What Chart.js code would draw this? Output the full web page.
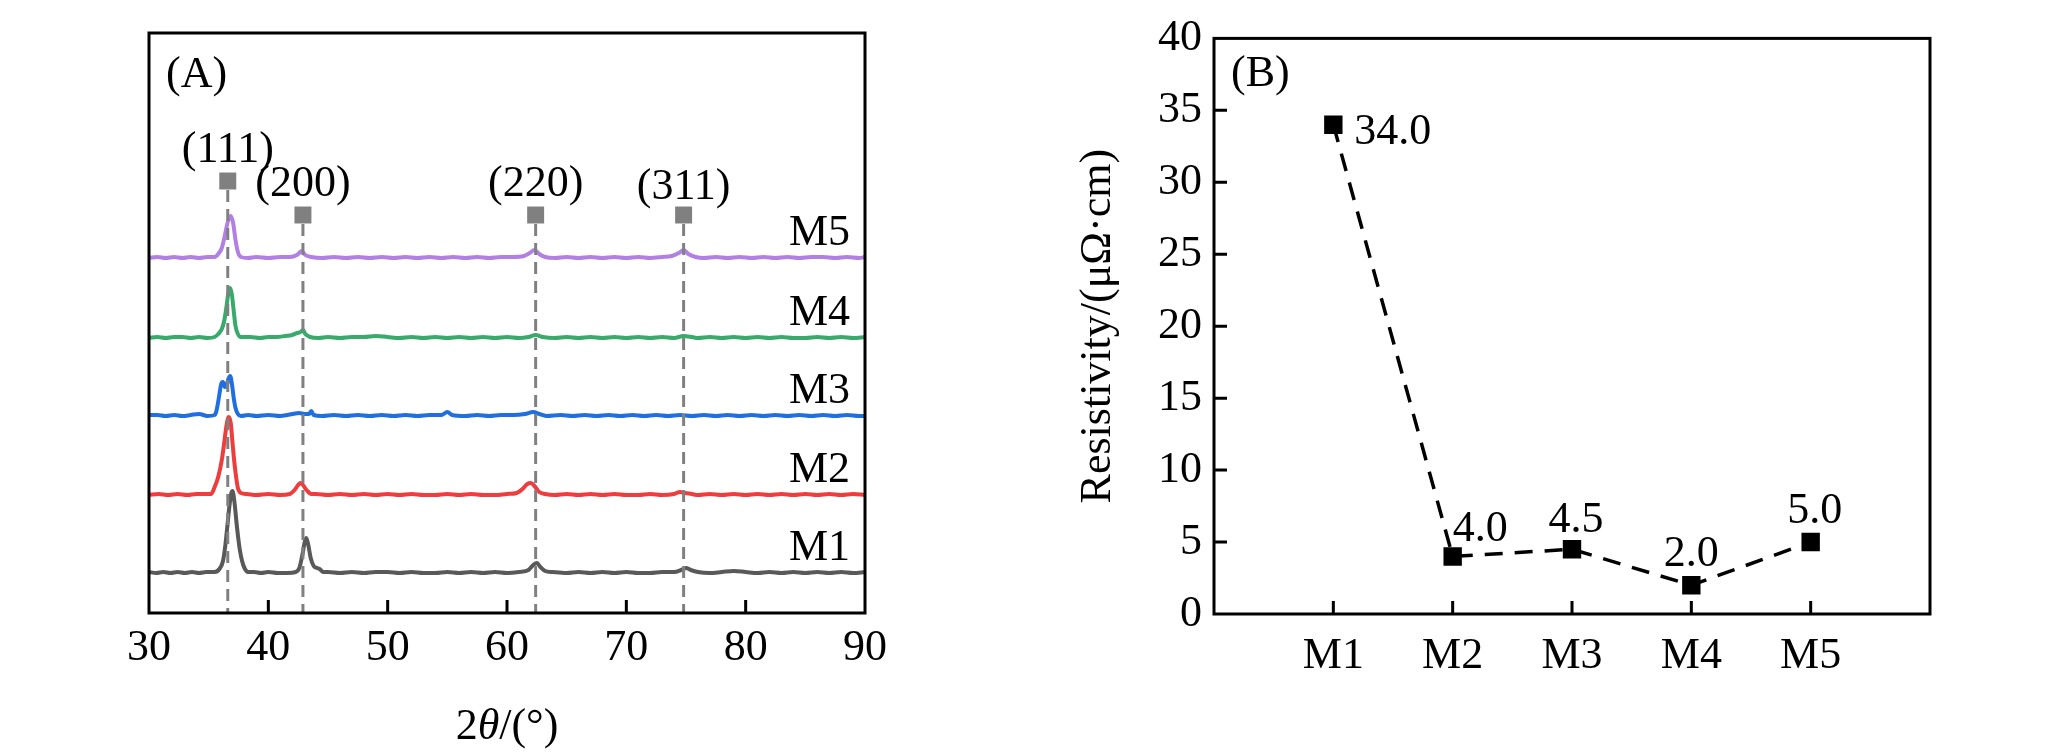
<!DOCTYPE html>
<html>
<head>
<meta charset="utf-8">
<script src="https://cdn.jsdelivr.net/npm/chart.js@4.4.0/dist/chart.umd.min.js"></script>
<style>
  html, body { margin: 0; padding: 0; background: #fff; }
  #wrap { position: relative; width: 2047px; height: 756px; overflow: hidden; }
  canvas { position: absolute; top: 0; }
  #xrd { left: 0; }
  #res { left: 1000px; }
</style>
</head>
<body>
<div id="wrap">
  <canvas id="xrd" width="1000" height="756"></canvas>
  <canvas id="res" width="1047" height="756"></canvas>
</div>
<script>
// ---- data: XRD patterns (2theta in degrees, intensity in a.u. above each curve's baseline)
const sampleNames = ['M1', 'M2', 'M3', 'M4', 'M5'];
const sampleColors = ['#595959', '#ee3d3d', '#1f6fe0', '#3aa96c', '#b27fe3'];
const stackOffsets = [40, 118, 197, 275, 355];

const xrdM1 = [[30,1],[30.6,0],[31.2,1],[31.8,0],[32.4,1],[33,0],[33.6,1],[34.2,0],[34.8,1],[35.2,1],[35.5,1],[35.9,4],[36.2,12],[36.4,28],[36.55,45],[36.75,68],[36.9,80],[37,82],[37.15,72],[37.38,45],[37.6,24],[37.8,12],[38,5],[38.3,1],[38.8,1],[39.4,0],[40,1],[40.8,0],[41.6,0],[42.3,1],[42.6,5],[42.85,18],[43.05,31],[43.18,35],[43.35,28],[43.55,15],[43.8,7],[44.1,5],[44.3,4],[44.6,1],[45,1],[46,0],[47,1],[48,0],[49,1],[50,1],[51,0],[52,1],[53,0],[54,0],[55,1],[56,0],[57,1],[58,0],[59,1],[60,0],[61,1],[61.8,3],[62.2,8],[62.5,10],[62.8,6],[63.2,2],[63.8,1],[65,0],[66,1],[67,0],[68,1],[69,0],[70,1],[71,0],[72,0],[73,1],[74,1],[74.6,3],[75,5],[75.4,3],[76,1],[77,0],[78,1],[79,2],[80,1],[81,0],[82,1],[83,0],[84,1],[85,0],[86,1],[87,0],[88,1],[89,0],[90,1]];
const xrdM2 = [[30,0],[30.8,1],[31.6,0],[32.4,1],[33.2,0],[34,1],[34.8,1],[35.2,1],[35.5,8],[35.8,18],[36.1,35],[36.3,52],[36.5,70],[36.68,78],[36.85,72],[37,52],[37.15,33],[37.3,18],[37.45,7],[37.7,2],[38.2,1],[39,0],[40,1],[41,0],[41.8,1],[42.2,5],[42.5,10],[42.7,12],[42.9,10],[43.2,5],[43.6,1],[44,1],[45,0],[46,1],[47,0],[48,1],[49,0],[50,1],[51,0],[52,1],[53,0],[54,0],[55,1],[56,0],[57,1],[58,0],[59,0],[60,1],[60.8,2],[61.3,6],[61.7,11],[62,12],[62.3,9],[62.7,3],[63.2,1],[64,0],[65,1],[66,0],[67,1],[68,0],[69,1],[70,0],[71,0],[72,1],[73,0],[74,1],[74.5,3],[74.9,2],[75.5,1],[76,0],[77,1],[78,0],[79,1],[80,0],[81,1],[82,0],[83,1],[84,0],[85,1],[86,0],[87,1],[88,0],[89,1],[90,0]];
const xrdM3 = [[30,1],[30.7,1],[31.4,0],[32.1,1],[32.8,0],[33.5,1],[34.2,2],[34.9,0],[35.5,1],[35.65,5],[35.85,18],[36.05,32],[36.2,34],[36.35,29],[36.5,30],[36.65,37],[36.8,40],[36.95,32],[37.1,18],[37.25,8],[37.45,2],[37.7,0],[38.3,1],[39,0],[40,1],[41,0],[41.6,1],[42,2],[42.6,3],[43,2],[43.4,2],[43.6,5],[43.8,1],[44.5,0],[45.5,1],[46.5,0],[47.5,1],[48.5,0],[49.5,1],[50.5,0],[51.5,1],[52.5,0],[53.5,1],[54.5,1],[55,4],[55.4,1],[56.5,0],[57.5,1],[58.5,0],[59.5,1],[60.5,1],[61.5,2],[62.2,4],[62.7,2],[63.3,0],[64.5,1],[65.5,0],[66.5,1],[67.5,0],[68.5,1],[69.5,0],[70.5,1],[71.5,0],[72.5,1],[73.5,0],[74.5,1],[75.5,0],[76.5,1],[77.5,0],[78.5,1],[79.5,0],[80.5,1],[81.5,0],[82.5,1],[83.5,0],[84.5,1],[85.5,0],[86.5,1],[87.5,0],[88.5,1],[89.5,0],[90,0]];
const xrdM4 = [[30,0],[30.7,1],[31.4,0],[32.1,1],[32.8,1],[33.5,0],[34.2,1],[34.9,0],[35.5,1],[35.8,4],[36.1,9],[36.3,17],[36.5,32],[36.65,45],[36.8,50],[36.95,43],[37.1,27],[37.25,12],[37.45,4],[37.7,1],[38.5,1],[39.3,0],[40,1],[40.7,1],[41.4,2],[42,3],[42.4,5],[42.7,6],[42.9,8],[43.1,4],[43.5,1],[44.2,0],[45,1],[46,0],[47,1],[48,1],[49,2],[50,1],[51,0],[52,1],[53,0],[54,1],[55,0],[56,1],[57,0],[58,1],[59,0],[60,1],[61,0],[61.8,1],[62.4,3],[63,1],[64,0],[65,1],[66,0],[67,1],[68,0],[69,1],[70,0],[71,1],[72,0],[73,1],[74,0],[74.8,2],[75.5,1],[76,0],[77,1],[78,0],[79,1],[80,0],[81,1],[82,0],[83,1],[84,0],[85,0],[86,1],[87,0],[88,1],[89,0],[90,1]];
const xrdM5 = [[30,0],[30.7,1],[31.4,0],[32.1,1],[32.8,0],[33.5,1],[34.2,0],[34.9,1],[35.5,1],[35.8,4],[36.1,10],[36.35,22],[36.6,36],[36.85,42],[37.05,35],[37.25,18],[37.45,6],[37.7,1],[38.3,0],[39,1],[40,0],[41,1],[41.8,1],[42.4,3],[42.8,7],[43.1,3],[43.6,1],[44.5,0],[45.5,1],[46.5,0],[47.5,1],[48.5,0],[49.5,1],[50.5,0],[51.5,1],[52.5,0],[53.5,1],[54.5,0],[55.5,1],[56.5,0],[57.5,1],[58.5,0],[59.5,1],[60.5,1],[61.4,2],[61.9,5],[62.3,8],[62.7,4],[63.2,1],[64,0],[65,1],[66,0],[67,1],[68,0],[69,1],[70,0],[71,1],[72,0],[73,1],[73.8,2],[74.4,5],[74.8,8],[75.2,4],[75.8,1],[76.5,0],[77.5,1],[78.5,0],[79.5,1],[80.5,0],[81.5,1],[82.5,0],[83.5,1],[84.5,0],[85.5,1],[86.5,1],[87.5,0],[88.5,1],[89.5,0],[90,1]];
const xrdPatterns = [xrdM1, xrdM2, xrdM3, xrdM4, xrdM5];

// reference peaks (hkl)
const peakLabels = ['(111)', '(200)', '(220)', '(311)'];
const peakTheta = [36.6, 42.9, 62.4, 74.8];
const peakMarkY = [432, 398, 398, 398];
const peakLabelY = [463, 429, 429, 426];
const xTicksA = [30, 40, 50, 60, 70, 80, 90];

// ---- data: resistivity
const resistivity = [34.0, 4.0, 4.5, 2.0, 5.0];
const yTicksB = [0, 5, 10, 15, 20, 25, 30, 35, 40];

const SERIF = '"Liberation Serif", "Times New Roman", serif';
const FS = 44;

// box frame + inward ticks
function frameTicks(xTicks, yTicks) {
  return {
    id: 'frameTicks',
    afterDraw(chart) {
      const { ctx, chartArea: a, scales } = chart;
      ctx.save();
      ctx.strokeStyle = '#000';
      ctx.lineWidth = 3;
      ctx.setLineDash([]);
      ctx.beginPath();
      xTicks.forEach(v => {
        const px = scales.x.getPixelForValue(v);
        ctx.moveTo(px, a.bottom); ctx.lineTo(px, a.bottom - 13);
      });
      yTicks.forEach(v => {
        const py = scales.y.getPixelForValue(v);
        ctx.moveTo(a.left, py); ctx.lineTo(a.left + 13, py);
      });
      ctx.stroke();
      ctx.strokeRect(a.left, a.top, a.right - a.left, a.bottom - a.top);
      ctx.restore();
    }
  };
}

const xrdDecor = {
  id: 'xrdDecor',
  afterDatasetsDraw(chart) {
    const { ctx, chartArea: a, scales: { x, y } } = chart;
    ctx.save();
    // dashed guides
    ctx.strokeStyle = '#808080';
    ctx.lineWidth = 3;
    ctx.setLineDash([12, 7]);
    peakTheta.forEach((t, i) => {
      const px = x.getPixelForValue(t);
      ctx.beginPath();
      ctx.moveTo(px, y.getPixelForValue(peakMarkY[i]) + 9);
      ctx.lineTo(px, a.bottom);
      ctx.stroke();
    });
    ctx.setLineDash([]);
    ctx.fillStyle = '#000';
    ctx.font = FS + 'px ' + SERIF;
    ctx.textBaseline = 'middle';
    ctx.textAlign = 'center';
    peakLabels.forEach((l, i) => {
      ctx.fillText(l, x.getPixelForValue(peakTheta[i]), y.getPixelForValue(peakLabelY[i]));
    });
    ctx.textAlign = 'right';
    sampleNames.forEach((n, i) => {
      ctx.fillText(n, a.right - 15, y.getPixelForValue(stackOffsets[i] + 25));
    });
    ctx.textAlign = 'left';
    ctx.fillText('(A)', a.left + 17, a.top + 42);
    // x-axis title with italic theta
    const parts = [['2', ''], ['θ', 'italic '], ['/(°)', '']];
    let total = 0;
    parts.forEach(p => { ctx.font = p[1] + FS + 'px ' + SERIF; total += ctx.measureText(p[0]).width; });
    let cx = (a.left + a.right) / 2 - total / 2;
    parts.forEach(p => {
      ctx.font = p[1] + FS + 'px ' + SERIF;
      ctx.fillText(p[0], cx, a.bottom + 114);
      cx += ctx.measureText(p[0]).width;
    });
    ctx.restore();
  }
};

const xrdDatasets = xrdPatterns.map((pat, i) => ({
  label: sampleNames[i],
  data: pat.map(p => ({ x: p[0], y: p[1] + stackOffsets[i] })),
  borderColor: sampleColors[i],
  borderWidth: 4,
  pointRadius: 0,
  cubicInterpolationMode: 'monotone',
  fill: false
}));
xrdDatasets.push({
  label: 'peaks',
  data: peakTheta.map((t, i) => ({ x: t, y: peakMarkY[i] })),
  showLine: false,
  pointStyle: 'rect',
  pointRadius: 12,
  pointBackgroundColor: '#808080',
  pointBorderWidth: 0
});

new Chart(document.getElementById('xrd'), {
  type: 'line',
  data: { datasets: xrdDatasets },
  options: {
    responsive: false,
    animation: false,
    devicePixelRatio: 1,
    layout: { padding: { left: 149, right: 135, top: 33, bottom: 0 } },
    plugins: { legend: { display: false }, tooltip: { enabled: false } },
    scales: {
      x: {
        type: 'linear', min: 30, max: 90,
        border: { display: false },
        grid: { display: false, drawTicks: false },
        afterBuildTicks: s => { s.ticks = xTicksA.map(v => ({ value: v })); },
        ticks: { padding: 9, color: '#000', maxRotation: 0, font: { family: SERIF, size: FS } },
        afterFit: s => { s.height = 143; }
      },
      y: { display: false, min: 0, max: 580 }
    }
  },
  plugins: [xrdDecor, frameTicks(xTicksA.slice(1, -1), [])]
});

// ---- panel B
const resOffsets = [[21, 8, 'left'], [0, -27, 'left'], [4, -29, 'center'], [0, -31, 'center'], [4, -31, 'center']];
const resDecor = {
  id: 'resDecor',
  afterDatasetsDraw(chart) {
    const { ctx, chartArea: a } = chart;
    const meta = chart.getDatasetMeta(0);
    ctx.save();
    ctx.fillStyle = '#000';
    ctx.font = FS + 'px ' + SERIF;
    ctx.textBaseline = 'middle';
    meta.data.forEach((pt, i) => {
      const o = resOffsets[i];
      ctx.textAlign = o[2];
      ctx.fillText(resistivity[i].toFixed(1), pt.x + o[0], pt.y + o[1]);
    });
    ctx.textAlign = 'left';
    ctx.fillText('(B)', a.left + 17, a.top + 36);
    ctx.restore();
  }
};

new Chart(document.getElementById('res'), {
  type: 'line',
  data: {
    datasets: [{
      label: 'Resistivity',
      data: resistivity.map((v, i) => ({ x: i + 1, y: v })),
      borderColor: '#000',
      borderWidth: 3.5,
      borderDash: [18, 12],
      pointStyle: 'rect',
      pointRadius: 13,
      pointBackgroundColor: '#000',
      pointBorderWidth: 0,
      fill: false
    }]
  },
  options: {
    responsive: false,
    animation: false,
    devicePixelRatio: 1,
    layout: { padding: { left: 0, right: 117, top: 33, bottom: 0 } },
    plugins: { legend: { display: false }, tooltip: { enabled: false } },
    scales: {
      x: {
        type: 'linear', min: 0, max: 6,
        border: { display: false },
        grid: { display: false, drawTicks: false },
        afterBuildTicks: s => { s.ticks = sampleNames.map((n, i) => ({ value: i + 1 })); },
        ticks: {
          autoSkip: false, padding: 16, color: '#000', maxRotation: 0,
          font: { family: SERIF, size: FS },
          callback: v => sampleNames[v - 1] || ''
        },
        afterFit: s => { s.height = 142; }
      },
      y: {
        min: 0, max: 40,
        border: { display: false },
        grid: { display: false, drawTicks: false },
        afterBuildTicks: s => { s.ticks = yTicksB.map(v => ({ value: v })); },
        ticks: { padding: 12, color: '#000', font: { family: SERIF, size: FS } },
        title: {
          display: true, text: 'Resistivity/(μΩ·cm)', color: '#000',
          font: { family: SERIF, size: FS }, padding: { top: 72, bottom: 0 }
        },
        afterFit: s => { s.width = 214; }
      }
    }
  },
  plugins: [resDecor, frameTicks([1, 2, 3, 4, 5], yTicksB.slice(1, -1))]
});
</script>
</body>
</html>
